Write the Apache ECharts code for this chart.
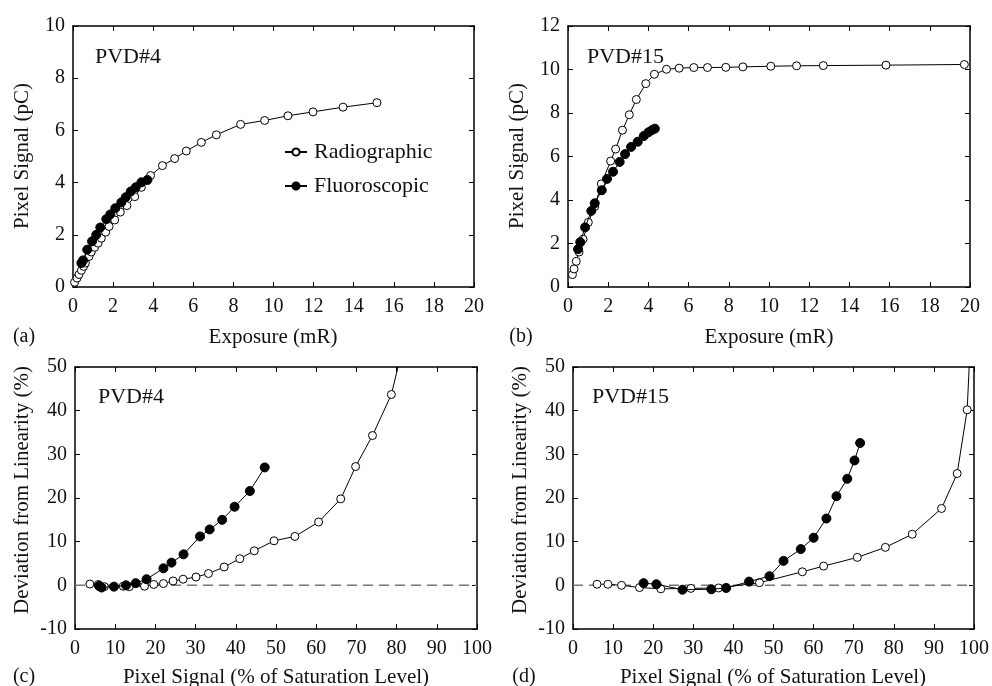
<!DOCTYPE html>
<html>
<head>
<meta charset="utf-8">
<script src="https://cdn.jsdelivr.net/npm/echarts@6/dist/echarts.min.js"></script>
<style>html,body{margin:0;padding:0;background:#fff;}#chart{width:992px;height:686px;}</style>
</head>
<body>
<div id="chart"></div>
<script>
// ---------- data ----------
const seriesNames = ['Radiographic', 'Fluoroscopic'];
const panelLabels = ['(a)', '(b)', '(c)', '(d)'];
const deviceLabels = ['PVD#4', 'PVD#15', 'PVD#4', 'PVD#15'];
const xTitleTop = 'Exposure (mR)';
const xTitleBottom = 'Pixel Signal (% of Saturation Level)';
const yTitleTop = 'Pixel Signal (pC)';
const yTitleBottom = 'Deviation from Linearity (%)';

// (a) PVD#4 : exposure (mR) vs pixel signal (pC)
const aRadiographic = [[0.08,0.18],[0.20,0.34],[0.30,0.48],[0.42,0.64],[0.53,0.79],[0.62,0.92],[0.80,1.17],[0.91,1.34],[1.08,1.52],[1.25,1.68],[1.41,1.87],[1.63,2.10],[1.80,2.32],[2.08,2.57],[2.36,2.87],[2.69,3.12],[3.08,3.46],[3.41,3.82],[3.87,4.27],[4.46,4.65],[5.07,4.92],[5.65,5.21],[6.40,5.54],[7.15,5.83],[8.36,6.23],[9.56,6.38],[10.72,6.56],[11.97,6.71],[13.47,6.89],[15.16,7.06]];
const aFluoroscopic = [[0.42,0.92],[0.50,1.02],[0.71,1.43],[0.95,1.75],[1.16,2.00],[1.36,2.28],[1.66,2.60],[1.86,2.78],[2.11,3.02],[2.41,3.24],[2.63,3.44],[2.88,3.66],[3.13,3.82],[3.41,4.01],[3.71,4.10]];

// (b) PVD#15
const bRadiographic = [[0.22,0.57],[0.30,0.83],[0.41,1.18],[0.55,1.61],[0.75,2.20],[1.01,2.97],[1.33,3.70],[1.66,4.74],[2.12,5.79],[2.37,6.34],[2.71,7.21],[3.05,7.92],[3.40,8.62],[3.87,9.35],[4.30,9.78],[4.90,10.01],[5.53,10.06],[6.26,10.09],[6.94,10.09],[7.85,10.10],[8.70,10.12],[10.09,10.15],[11.37,10.17],[12.70,10.18],[15.82,10.20],[19.72,10.23]];
const bFluoroscopic = [[0.50,1.74],[0.61,2.06],[0.85,2.74],[1.16,3.50],[1.33,3.85],[1.68,4.45],[1.94,4.97],[2.24,5.30],[2.57,5.75],[2.84,6.11],[3.14,6.44],[3.47,6.68],[3.77,6.94],[4.00,7.11],[4.17,7.21],[4.32,7.28]];

// (c) PVD#4 : pixel signal (% sat) vs deviation (%)
const cRadiographic = [[3.7,0.3],[5.8,0.2],[7.3,-0.3],[12.0,-0.2],[13.5,-0.3],[17.3,-0.2],[19.6,0.2],[22.0,0.4],[24.4,1.0],[26.9,1.4],[30.1,1.9],[33.2,2.7],[37.1,4.2],[41.0,6.1],[44.6,7.9],[49.5,10.2],[54.7,11.2],[60.6,14.5],[66.1,19.8],[69.8,27.2],[74.0,34.3],[78.7,43.7],[83.5,62.0]];
const cFluoroscopic = [[6.0,-0.15],[6.6,-0.5],[9.7,-0.3],[12.7,0.0],[15.1,0.5],[17.8,1.4],[22.0,3.9],[24.0,5.2],[27.0,7.1],[31.1,11.2],[33.5,12.8],[36.6,15.0],[39.7,18.0],[43.5,21.6],[47.2,27.0]];

// (d) PVD#15
const dRadiographic = [[6.0,0.25],[8.7,0.25],[12.1,0.0],[16.6,-0.5],[21.9,-0.8],[29.4,-0.7],[36.3,-0.6],[46.5,0.6],[57.2,3.1],[62.5,4.4],[70.9,6.4],[77.9,8.7],[84.6,11.7],[91.9,17.6],[95.8,25.6],[98.3,40.2],[99.4,62.0]];
const dFluoroscopic = [[17.6,0.5],[20.8,0.25],[27.3,-1.0],[34.5,-0.9],[38.2,-0.6],[43.9,0.85],[49.0,2.1],[52.5,5.6],[56.8,8.3],[60.0,10.9],[63.2,15.3],[65.7,20.4],[68.4,24.4],[70.2,28.6],[71.6,32.6]];

const zeroLine = [[0,0],[100,0]];

// axis ranges
const xRangeTop = {min:0, max:20, interval:2};
const xRangeBottom = {min:0, max:100, interval:10};
const yRanges = [{min:0,max:10,interval:2},{min:0,max:12,interval:2},{min:-10,max:50,interval:10},{min:-10,max:50,interval:10}];

// ---------- layout ----------
const FONT = 'Liberation Serif';
const grids = [
  {left:73, top:26, width:401, height:261},
  {left:568, top:26, width:402, height:261},
  {left:75, top:367, width:402, height:262},
  {left:573, top:367, width:401, height:262}
];

const xAxes = [], yAxes = [];
grids.forEach((g, i) => {
  const xr = i < 2 ? xRangeTop : xRangeBottom;
  const yr = yRanges[i];
  const common = {
    type:'value', gridIndex:i,
    axisLine:{show:true, onZero:false, lineStyle:{color:'#000', width:1.5}},
    axisTick:{show:true, inside:true, length:5, lineStyle:{color:'#000', width:1}},
    splitLine:{show:false}
  };
  xAxes.push(Object.assign({}, common, xr, {position:'bottom',
    axisLabel:{show:true, margin:10, fontSize:20, fontFamily:FONT, color:'#111'}}));
  xAxes.push(Object.assign({}, common, xr, {position:'top', axisLabel:{show:false}}));
  yAxes.push(Object.assign({}, common, yr, {position:'left',
    axisLabel:{show:true, margin:8, fontSize:20, fontFamily:FONT, color:'#111'}}));
  yAxes.push(Object.assign({}, common, yr, {position:'right', axisLabel:{show:false}}));
});

function mkSeries(name, data, i, filled) {
  return {
    name: name, type:'line', data:data,
    xAxisIndex: 2*i, yAxisIndex: 2*i,
    symbol:'circle', symbolSize: filled ? 9 : 8,
    showAllSymbol:true, clip:true, animation:false,
    lineStyle:{color:'#000', width:1},
    itemStyle:{color: filled ? '#000' : '#fff', borderColor:'#000', borderWidth:1},
    z: filled ? 3 : 2
  };
}

const series = [
  mkSeries(seriesNames[0], aRadiographic, 0, false),
  mkSeries(seriesNames[1], aFluoroscopic, 0, true),
  mkSeries(seriesNames[0], bRadiographic, 1, false),
  mkSeries(seriesNames[1], bFluoroscopic, 1, true),
  mkSeries(seriesNames[0], cRadiographic, 2, false),
  mkSeries(seriesNames[1], cFluoroscopic, 2, true),
  mkSeries(seriesNames[0], dRadiographic, 3, false),
  mkSeries(seriesNames[1], dFluoroscopic, 3, true)
];
[2,3].forEach(i => {
  series.push({type:'line', data:zeroLine, xAxisIndex:2*i, yAxisIndex:2*i, symbol:'none', silent:true,
    animation:false, z:1, lineStyle:{color:'#777', width:1.5, type:[10,6]}});
});

function txt(x, y, text, size, opts) {
  return Object.assign({type:'text', x:x, y:y, silent:true,
    style:{text:text, fontSize:size, fontFamily:FONT, fill:'#111', align:'center', verticalAlign:'middle'}}, opts || {});
}
const graphics = [
  txt(24, 337, panelLabels[0], 20), txt(521, 337, panelLabels[1], 20),
  txt(24, 677, panelLabels[2], 20), txt(524, 677, panelLabels[3], 20),
  txt(273, 337, xTitleTop, 21), txt(769, 337, xTitleTop, 21),
  txt(276, 677, xTitleBottom, 21), txt(773, 677, xTitleBottom, 21),
  txt(22, 156, yTitleTop, 21, {rotation:Math.PI/2}), txt(517, 156, yTitleTop, 21, {rotation:Math.PI/2}),
  txt(22, 490, yTitleBottom, 21, {rotation:Math.PI/2}), txt(520, 490, yTitleBottom, 21, {rotation:Math.PI/2}),
  txt(95, 57, deviceLabels[0], 22, {style:{text:deviceLabels[0], fontSize:22, fontFamily:FONT, fill:'#111', align:'left', verticalAlign:'middle'}}),
  txt(587, 57, deviceLabels[1], 22, {style:{text:deviceLabels[1], fontSize:22, fontFamily:FONT, fill:'#111', align:'left', verticalAlign:'middle'}}),
  txt(98, 397, deviceLabels[2], 22, {style:{text:deviceLabels[2], fontSize:22, fontFamily:FONT, fill:'#111', align:'left', verticalAlign:'middle'}}),
  txt(592, 397, deviceLabels[3], 22, {style:{text:deviceLabels[3], fontSize:22, fontFamily:FONT, fill:'#111', align:'left', verticalAlign:'middle'}})
];

const chart = echarts.init(document.getElementById('chart'), null, {renderer:'canvas'});
chart.setOption({
  backgroundColor:'#fff',
  animation:false,
  grid: grids,
  xAxis: xAxes,
  yAxis: yAxes,
  legend: {
    data: seriesNames, orient:'vertical', left:279, top:136,
    itemWidth:22, itemHeight:9, itemGap:12, selectedMode:false,
    textStyle:{fontSize:22, fontFamily:FONT, color:'#111', padding:[0,0,0,2]}
  },
  series: series,
  graphic: graphics
});
</script>
</body>
</html>
